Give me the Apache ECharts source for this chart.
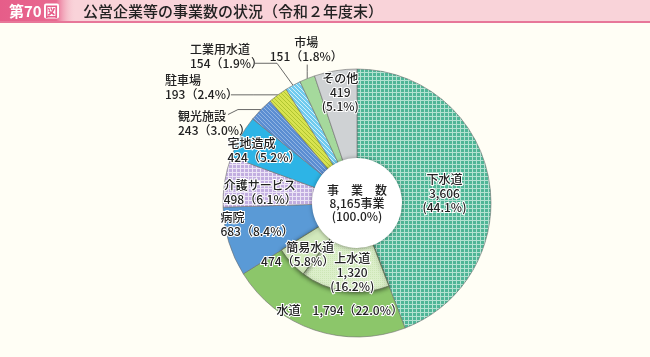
<!DOCTYPE html>
<html><head><meta charset="utf-8">
<script src="https://cdn.jsdelivr.net/npm/echarts@6/dist/echarts.min.js"></script>
<style>html,body{margin:0;padding:0;background:#fffef5;} #c{width:650px;height:357px;}</style>
</head><body><div id="c"></div>
<script>
// ---- data ----
const categories = ['下水道','水道','病院','介護サービス','宅地造成','観光施設','駐車場','工業用水道','市場','その他'];
const counts = [3606,1794,683,498,424,243,193,154,151,419];
const shares = [44.1,22.0,8.4,6.1,5.2,3.0,2.4,1.9,1.8,5.1];
const subParent = '水道';
const subCategories = ['上水道','簡易水道'];
const subCounts = [1320,474];
const subShares = [16.2,5.8];
const totalName = '事　業　数';
const totalCount = 8165;
const totalShare = 100.0;
const figNo = '第70';
const figMark = '図';
const titleText = '公営企業等の事業数の状況（令和２年度末）';

// ---- styles ----
function pattern(size, bg, fg, kind){
  const c = document.createElement('canvas'); c.width = c.height = size;
  const ctx = c.getContext('2d'); ctx.fillStyle = bg; ctx.fillRect(0,0,size,size);
  ctx.fillStyle = fg;
  if (kind === 'grid'){ ctx.fillRect(0,0,size,1); ctx.fillRect(0,0,1,size); }
  else if (kind === 'diag'){ for (let i=0;i<size;i++) ctx.fillRect(i,i,1,1); }
  else if (kind === 'dots'){ ctx.fillRect(0,0,1,1); }
  return {image:c, repeat:'repeat'};
}
const fills = {
  '下水道': pattern(4,'#4fb596','#b3e2d1','grid'),
  '水道': '#8cc66a',
  '病院': '#5a9ad6',
  '介護サービス': pattern(4,'#c2aee0','#ece4f6','grid'),
  '宅地造成': '#2db4e6',
  '観光施設': pattern(4,'#5b8ed2','#93b5e3','diag'),
  '駐車場': pattern(4,'#d8e350','#b0c530','diag'),
  '工業用水道': pattern(4,'#70cbee','#d2f0fb','diag'),
  '市場': '#a5d99c',
  'その他': '#cfd2d4',
  '上水道': pattern(2,'#dcefca','#cde6b6','dots'),
  '簡易水道': '#d2e9bc'
};
const FONT = '"Noto Sans CJK JP", "Noto Sans", sans-serif';
const FW = 500;
const fmtN = n => n.toLocaleString('en-US');
const fmtP = v => v.toFixed(1) + '%';

// label text styles per name
const stack3 = ['下水道','その他','上水道'];
const leftTwo = ['病院','介護サービス','宅地造成','駐車場','工業用水道','観光施設'];
const rightTwo = ['簡易水道'];
const oneLine = ['水道'];
function labelText(name, n, p){
  if (stack3.includes(name)) return name + '\n' + fmtN(n) + '\n(' + fmtP(p) + ')';
  if (oneLine.includes(name)) return name + '　' + fmtN(n) + '（' + fmtP(p) + '）';
  const l1 = name, l2 = fmtN(n) + '（' + fmtP(p) + '）';
  if (leftTwo.includes(name)) return '{l|' + l1 + '}\n{l|' + l2 + '}';
  if (rightTwo.includes(name)) return '{r|' + l1 + '}\n{r|' + l2 + '}';
  return l1 + '\n' + l2;
}
const richStyles = {
  l:{align:'left', fontSize:12, lineHeight:14, fontFamily:FONT, fontWeight:FW, color:'#222'},
  r:{align:'right', fontSize:12, lineHeight:14, fontFamily:FONT, fontWeight:FW, color:'#222'}
};

// label placement tweaks
const insideShift = {
  '下水道':[-3,7], '水道':[12,20], '病院':[-12,-5], '介護サービス':[-6,4],
  '宅地造成':[-13,-7], 'その他':[-2,-20], '上水道':[5,1], '簡易水道':[-8,5]
};
const outsideSpec = {
  '観光施設': {line:[[0,0],[-23,0],[-33,5]], text:[-83,0], align:'left'},
  '駐車場':   {line:[[0,0],[-24,0],[-47,0]], text:[-113,-21], align:'left'},
  '工業用水道':{line:[[0,0],[-16,-22],[-38,-22]], text:[-103,-43], align:'left'},
  '市場':     {line:[[0,0],[0,-7],[0,-14]], text:[-1,-43], align:'center'}
};

const CX = 357, CY = 203;
const innerStyle = {fontFamily:FONT, fontSize:12, fontWeight:FW, lineHeight:14, color:'#222', textBorderColor:'#fff', textBorderWidth:2, rich:richStyles};
const outerStyle = {fontFamily:FONT, fontSize:12, fontWeight:FW, lineHeight:14, color:'#222', rich:richStyles};

const mainData = categories.map((name,i) => {
  const out = !!outsideSpec[name];
  return {
    name, value: counts[i],
    itemStyle:{color: fills[name]},
    label: Object.assign({show:true, position: out ? 'outside' : 'inside',
      formatter: labelText(name, counts[i], shares[i])}, out ? outerStyle : innerStyle),
    labelLine:{show: out, lineStyle:{color:'#444', width:0.8}}
  };
});
const ringData = [];
categories.forEach((name,i) => {
  if (name === subParent){
    subCategories.forEach((s,j) => ringData.push({
      name:s, value:subCounts[j],
      itemStyle:{color:fills[s], borderColor:'#5f6f50', borderWidth:0.8, shadowBlur:4, shadowColor:'rgba(0,0,0,0.5)', shadowOffsetY:1},
      label: Object.assign({show:true, position:'inside', formatter: labelText(s, subCounts[j], subShares[j])}, innerStyle)
    }));
  } else {
    ringData.push({name:name+'_', value:counts[i], itemStyle:{color:'rgba(0,0,0,0)', borderWidth:0}, label:{show:false}});
  }
});

function layoutFor(names){
  return function(p){
    const name = names[p.dataIndex];
    const sh = insideShift[name];
    if (sh) return {dx:sh[0], dy:sh[1]};
    const spec = outsideSpec[name];
    if (spec && p.labelLinePoints){
      const a = p.labelLinePoints[0];
      return {
        x: a[0] + spec.text[0], y: a[1] + spec.text[1],
        align: spec.align, verticalAlign:'top',
        labelLinePoints: spec.line.map(d => [a[0]+d[0], a[1]+d[1]])
      };
    }
    return {};
  };
}
const ringNames = ringData.map(d => d.name);

const chart = echarts.init(document.getElementById('c'), null, {renderer:'canvas'});
chart.setOption({
  backgroundColor:'#fffef5',
  animation:false,
  graphic:[
    {type:'rect', shape:{x:0,y:0,width:650,height:22}, style:{fill:'#f9d3d9'}},
    {type:'rect', shape:{x:0,y:21,width:650,height:2}, style:{fill:'#e77799'}},
    {type:'rect', shape:{x:0,y:0,width:76,height:21}, style:{fill:new echarts.graphic.LinearGradient(0,0,1,0,[
      {offset:0,color:'#e65d89'},{offset:0.74,color:'#e86990'},{offset:1,color:'rgba(249,211,217,0)'}])}},
    {type:'text', x:9, y:11, style:{text:figNo, fill:'#fff', font:'bold 15px '+FONT, verticalAlign:'middle'}},
    {type:'rect', shape:{x:44,y:3.5,width:15,height:15,r:2}, style:{fill:'#fff'}},
    {type:'text', x:51.5, y:11, style:{text:figMark, fill:'#e65d89', font:'bold 13px '+FONT, align:'center', verticalAlign:'middle'}},
    {type:'text', x:83, y:11, style:{text:titleText, fill:'#222', font:'500 15px '+FONT, verticalAlign:'middle'}}
  ],
  series:[
    {
      type:'pie', center:[CX,CY], radius:[44,134], startAngle:90, clockwise:true,
      avoidLabelOverlap:false, silent:true, emphasis:{disabled:true},
      itemStyle:{borderColor:'#6d6d6d', borderWidth:0.6},
      labelLayout: layoutFor(categories),
      data: mainData
    },
    {
      type:'pie', center:[CX,CY], radius:[44,89], startAngle:90, clockwise:true,
      avoidLabelOverlap:false, silent:true, emphasis:{disabled:true},
      labelLayout: layoutFor(ringNames),
      data: ringData
    },
    {
      type:'pie', center:[CX,CY], radius:[0,45], silent:true, emphasis:{disabled:true},
      itemStyle:{color:'#ffffff', shadowBlur:4, shadowColor:'rgba(0,0,0,0.35)'},
      label:{show:true, position:'center', fontFamily:FONT, fontSize:12, fontWeight:FW, lineHeight:13, color:'#222',
        formatter: totalName + '\n' + fmtN(totalCount) + '事業\n(' + fmtP(totalShare) + ')'},
      labelLine:{show:false},
      data:[{name:totalName, value:totalCount}]
    }
  ]
});
</script></body></html>
